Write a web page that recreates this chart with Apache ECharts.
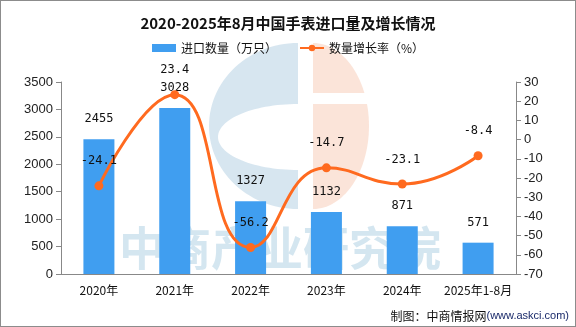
<!DOCTYPE html>
<html><head><meta charset="utf-8">
<script src="https://cdn.jsdelivr.net/npm/echarts@6/dist/echarts.min.js"></script>
<style>
html,body{margin:0;padding:0;background:#fff;}
#c{width:574px;height:325px;border:1px solid #8c8c8c;}
</style></head>
<body><div id="c"></div>
<script>
const categories = ['2020年','2021年','2022年','2023年','2024年','2025年1-8月'];
const importVolume = [2455, 3028, 1327, 1132, 871, 571];
const growthRate = [-24.1, 23.4, -56.2, -14.7, -23.1, -8.4];
const leftTicks = {min:0, max:3500, interval:500};
const rightTicks = {min:-70, max:30, interval:10};

// watermark logo helper (decoration only)
function halfEllipse(cx, cy, rx, ry, side, n) {
  const pts = [];
  for (let i = 0; i <= n; i++) {
    const t = -Math.PI/2 + Math.PI * i / n;
    pts.push([cx + side * rx * Math.cos(t), cy + ry * Math.sin(t)]);
  }
  return pts;
}
const outerBlue = halfEllipse(297, 125, 89, 83, -1, 60);
const innerBlue = halfEllipse(297, 136, 80, 33, -1, 60).reverse();
const bluePoly = outerBlue.concat(innerBlue);
const pinkPoly = halfEllipse(312, 125, 56, 83, 1, 60);

const chart = echarts.init(document.getElementById('c'));
const cjk = '"Noto Sans CJK SC", sans-serif';
chart.setOption({
  animation:false,
  title:{text:'2020-2025年8月中国手表进口量及增长情况', left:'center', top:10,
    textStyle:{fontSize:15, fontWeight:'bold', color:'#111', fontFamily:cjk}},
  legend:{top:36, left:'center', itemWidth:24, itemHeight:8, itemGap:22,
    textStyle:{fontSize:12, color:'#111', fontFamily:cjk},
    data:[{name:'进口数量（万只）', icon:'rect'}, {name:'数量增长率（%）'}]},
  graphic:[
    {type:'polygon', shape:{points:bluePoly}, style:{fill:'rgba(175,205,225,0.5)'}, z:-10, silent:true},
    {type:'polygon', shape:{points:pinkPoly}, style:{fill:'rgba(248,205,185,0.55)'}, z:-10, silent:true},
    {type:'rect', shape:{x:305, y:92, width:70, height:11}, style:{fill:'#fff'}, z:-9, silent:true},
    {type:'text', left:118, top:224, z:-5, silent:true,
      style:{text:'中商产业研究院', fontSize:46, fontWeight:'bold', fill:'rgba(170,205,225,0.5)', fontFamily:cjk}},
    {type:'text', right:6, bottom:4, style:{
      text:'{a|制图：中商情报网}{b|(www.askci.com)}',
      rich:{a:{fontSize:12, fill:'#111', fontFamily:cjk}, b:{fontSize:11, fill:'#1a2a6a', fontFamily:'"Liberation Sans", sans-serif'}}}}
  ],
  grid:{left:60, right:59, top:81, bottom:52},
  xAxis:{type:'category', data:categories,
    axisLine:{lineStyle:{color:'#888'}}, axisTick:{lineStyle:{color:'#888'}},
    axisLabel:{color:'#111', fontSize:12, margin:10, interval:0, fontFamily:cjk}},
  yAxis:[
    {type:'value', min:leftTicks.min, max:leftTicks.max, interval:leftTicks.interval,
      splitLine:{show:false}, axisLine:{show:true, lineStyle:{color:'#888'}}, axisTick:{show:true, length:5},
      axisLabel:{color:'#222', fontSize:13, formatter:v=>String(v), fontFamily:'"Liberation Sans", sans-serif'}},
    {type:'value', min:rightTicks.min, max:rightTicks.max, interval:rightTicks.interval,
      splitLine:{show:false}, axisLine:{show:true, lineStyle:{color:'#888'}}, axisTick:{show:true, length:5},
      axisLabel:{color:'#222', fontSize:13, formatter:v=>String(v), fontFamily:'"Liberation Sans", sans-serif'}}
  ],
  series:[
    {name:'进口数量（万只）', type:'bar', data:importVolume, barWidth:31,
      itemStyle:{color:'#409EF0'},
      label:{show:true, position:'top', distance:14, color:'#111', fontSize:12, fontFamily:'"DejaVu Sans Mono", monospace'}},
    {name:'数量增长率（%）', type:'line', yAxisIndex:1, data:growthRate, smooth:true,
      symbol:'circle', symbolSize:9, lineStyle:{width:3, color:'#FF6A1F'}, itemStyle:{color:'#FF6A1F'},
      label:{show:true, position:'top', distance:14, color:'#111', fontSize:12, fontFamily:'"DejaVu Sans Mono", monospace'}}
  ]
});
</script></body></html>
